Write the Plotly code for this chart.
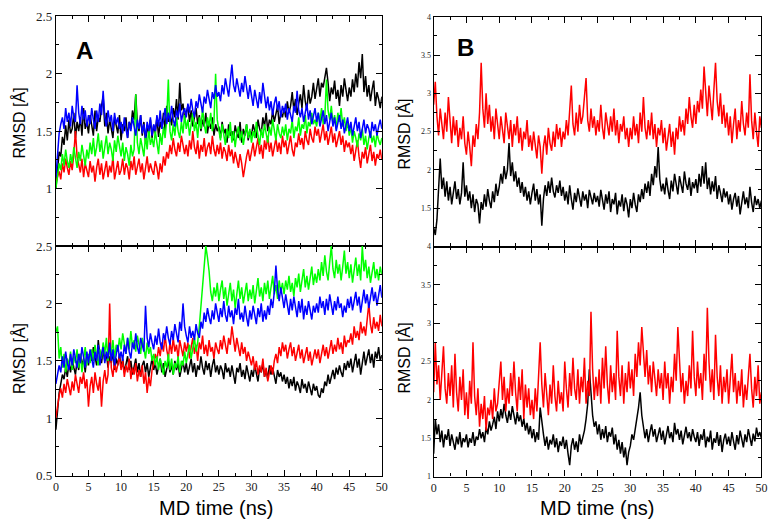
import plotly.graph_objects as go

# time axis (ns), sampled every 0.25 ns
time_ns = [i * 0.25 for i in range(201)]

# ---- Panel A, top ----
a_top_black = [
    1.00,1.18,1.32,1.28,1.45,1.38,1.55,1.42,1.60,1.48,1.52,1.66,1.44,1.58,1.50,1.62,1.46,1.70,1.52,1.58,
    1.48,1.64,1.55,1.46,1.68,1.50,1.62,1.58,1.72,1.80,1.54,1.66,1.48,1.60,1.52,1.44,1.62,1.56,1.48,1.64,
    1.42,1.56,1.50,1.62,1.44,1.58,1.52,1.68,1.60,1.82,1.56,1.50,1.64,1.46,1.58,1.40,1.54,1.48,1.60,1.44,
    1.55,1.48,1.62,1.45,1.58,1.52,1.66,1.50,1.72,1.58,1.64,1.55,1.70,1.62,1.78,1.60,1.92,1.68,1.74,1.60,
    1.66,1.72,1.58,1.68,1.54,1.62,1.70,1.56,1.64,1.50,1.60,1.54,1.66,1.48,1.58,1.52,1.62,1.46,1.56,1.50,
    1.54,1.44,1.58,1.48,1.52,1.40,1.56,1.46,1.50,1.42,1.55,1.48,1.44,1.58,1.40,1.52,1.46,1.56,1.42,1.50,
    1.46,1.56,1.50,1.44,1.60,1.52,1.48,1.62,1.54,1.66,1.50,1.60,1.56,1.68,1.58,1.64,1.72,1.56,1.66,1.62,
    1.70,1.62,1.76,1.66,1.72,1.84,1.68,1.78,1.64,1.74,1.82,1.70,1.90,1.76,1.68,1.86,1.74,1.80,1.92,1.78,
    1.86,1.96,1.80,1.92,1.88,1.98,2.05,1.92,1.76,1.88,1.82,1.94,1.78,1.86,1.72,1.90,1.80,1.96,1.84,1.76,
    1.88,1.80,1.95,1.84,2.00,1.88,2.10,1.96,2.17,1.84,1.98,1.80,1.90,1.76,1.86,1.94,1.72,1.84,1.78,1.70,
    1.80]
a_top_red = [
    1.05,1.10,1.15,1.08,1.22,1.14,1.26,1.18,1.12,1.24,1.16,1.30,1.50,1.28,1.20,1.14,1.26,1.10,1.22,1.16,
    1.10,1.24,1.14,1.20,1.06,1.18,1.26,1.12,1.22,1.08,1.16,1.24,1.10,1.20,1.14,1.28,1.08,1.18,1.24,1.12,
    1.16,1.26,1.12,1.22,1.18,1.08,1.24,1.16,1.28,1.12,1.20,1.26,1.14,1.22,1.08,1.18,1.28,1.14,1.22,1.16,
    1.12,1.24,1.18,1.08,1.22,1.14,1.28,1.20,1.32,1.26,1.38,1.30,1.44,1.34,1.28,1.40,1.32,1.46,1.36,1.30,
    1.38,1.28,1.42,1.34,1.50,1.36,1.30,1.42,1.26,1.38,1.32,1.44,1.28,1.36,1.40,1.30,1.46,1.34,1.28,1.38,
    1.30,1.40,1.26,1.36,1.32,1.24,1.38,1.28,1.34,1.22,1.32,1.26,1.18,1.30,1.22,1.10,1.20,1.28,1.34,1.24,
    1.32,1.40,1.28,1.36,1.44,1.30,1.38,1.26,1.42,1.34,1.46,1.32,1.40,1.28,1.38,1.44,1.32,1.40,1.30,1.46,
    1.36,1.42,1.30,1.38,1.46,1.34,1.28,1.40,1.36,1.48,1.38,1.44,1.34,1.50,1.42,1.38,1.52,1.44,1.40,1.54,
    1.46,1.52,1.40,1.48,1.56,1.42,1.50,1.38,1.46,1.54,1.40,1.48,1.36,1.44,1.50,1.38,1.46,1.32,1.42,1.36,
    1.40,1.30,1.38,1.24,1.34,1.42,1.28,1.18,1.32,1.26,1.36,1.22,1.30,1.38,1.24,1.32,1.20,1.30,1.26,1.34,
    1.25]
a_top_green = [
    1.00,1.10,1.22,1.16,1.30,1.20,1.34,1.24,1.18,1.30,1.22,1.36,1.26,1.18,1.32,1.24,1.38,1.28,1.20,1.34,
    1.26,1.40,1.30,1.44,1.28,1.36,1.48,1.32,1.42,1.26,1.38,1.46,1.30,1.40,1.34,1.24,1.42,1.32,1.46,1.36,
    1.28,1.40,1.24,1.36,1.30,1.20,1.38,1.28,1.34,1.82,1.40,1.30,1.44,1.36,1.28,1.46,1.34,1.52,1.38,1.44,
    1.36,1.50,1.40,1.30,1.48,1.38,1.54,1.44,1.60,1.95,1.50,1.42,1.56,1.46,1.62,1.50,1.44,1.58,1.48,1.64,
    1.52,1.60,1.46,1.56,1.66,1.50,1.58,1.44,1.62,1.52,1.70,1.56,1.48,1.62,1.54,1.66,1.50,1.58,2.00,1.60,
    1.50,1.42,1.56,1.46,1.38,1.52,1.44,1.58,1.40,1.50,1.36,1.48,1.54,1.42,1.50,1.38,1.46,1.56,1.44,1.52,
    1.40,1.50,1.44,1.58,1.46,1.38,1.52,1.44,1.56,1.48,1.40,1.54,1.46,1.60,1.50,1.42,1.56,1.48,1.44,1.54,
    1.46,1.56,1.42,1.52,1.48,1.60,1.44,1.54,1.50,1.62,1.46,1.56,1.52,1.64,1.48,1.58,1.54,1.66,1.56,1.60,
    1.54,1.66,1.58,1.70,1.56,1.62,1.95,1.68,1.60,1.72,1.56,1.64,1.52,1.66,1.58,1.70,1.54,1.62,1.50,1.58,
    1.46,1.54,1.40,1.50,1.44,1.36,1.48,1.42,1.52,1.38,1.46,1.34,1.44,1.50,1.40,1.46,1.36,1.48,1.42,1.38,
    1.44]
a_top_blue = [
    1.10,1.30,1.48,1.56,1.62,1.52,1.70,1.58,1.66,1.54,1.72,1.62,1.58,1.90,1.66,1.56,1.72,1.60,1.68,1.54,
    1.64,1.56,1.70,1.60,1.52,1.68,1.58,1.74,1.64,1.85,1.62,1.54,1.68,1.58,1.64,1.50,1.66,1.56,1.62,1.52,
    1.58,1.48,1.62,1.52,1.44,1.58,1.50,1.62,1.54,1.46,1.60,1.52,1.64,1.48,1.56,1.44,1.58,1.50,1.62,1.46,
    1.56,1.50,1.64,1.54,1.68,1.52,1.60,1.70,1.56,1.66,1.58,1.72,1.60,1.54,1.68,1.62,1.74,1.58,1.66,1.70,
    1.62,1.74,1.66,1.78,1.68,1.62,1.76,1.70,1.82,1.72,1.66,1.80,1.74,1.86,1.76,1.70,1.84,1.78,1.90,1.80,
    1.84,1.76,1.90,1.82,1.96,1.86,1.80,1.94,2.08,1.90,1.84,1.96,1.88,1.80,1.92,1.84,1.98,1.86,1.78,1.90,
    1.80,1.72,1.86,1.76,1.70,1.84,1.74,1.92,1.78,1.70,1.80,1.68,1.76,1.64,1.74,1.80,1.68,1.76,1.62,1.72,
    1.66,1.74,1.60,1.70,1.64,1.58,1.72,1.66,1.85,1.68,1.62,1.70,1.58,1.66,1.74,1.60,1.68,1.56,1.64,1.70,
    1.58,1.66,1.54,1.62,1.68,1.56,1.64,1.50,1.60,1.66,1.54,1.62,1.50,1.58,1.64,1.52,1.60,1.48,1.56,1.62,
    1.50,1.58,1.46,1.56,1.62,1.50,1.58,1.44,1.54,1.60,1.48,1.56,1.52,1.44,1.58,1.50,1.56,1.46,1.54,1.60,
    1.52]

# ---- Panel A, bottom ----
a_bot_black = [
    0.90,1.08,1.22,1.30,1.38,1.34,1.44,1.36,1.48,1.40,1.52,1.44,1.38,1.50,1.42,1.56,1.46,1.52,1.40,1.54,
    1.46,1.58,1.50,1.62,1.52,1.46,1.68,1.54,1.48,1.60,1.50,1.56,1.44,1.54,1.48,1.58,1.42,1.52,1.46,1.56,
    1.44,1.52,1.40,1.48,1.54,1.42,1.50,1.38,1.46,1.52,1.40,1.48,1.36,1.46,1.50,1.40,1.48,1.36,1.44,1.52,
    1.42,1.48,1.38,1.46,1.52,1.40,1.48,1.36,1.44,1.50,1.40,1.46,1.38,1.50,1.42,1.48,1.36,1.44,1.50,1.40,
    1.48,1.38,1.44,1.52,1.40,1.48,1.36,1.46,1.42,1.54,1.44,1.38,1.50,1.42,1.48,1.36,1.46,1.52,1.40,1.46,
    1.38,1.46,1.42,1.34,1.48,1.40,1.44,1.36,1.46,1.38,1.30,1.44,1.40,1.48,1.36,1.42,1.34,1.46,1.40,1.32,
    1.42,1.36,1.46,1.38,1.32,1.44,1.40,1.48,1.36,1.42,1.34,1.46,1.38,1.44,1.36,1.30,1.42,1.36,1.40,1.32,
    1.38,1.30,1.36,1.26,1.34,1.28,1.36,1.24,1.32,1.28,1.22,1.34,1.26,1.30,1.22,1.32,1.26,1.20,1.30,1.24,
    1.28,1.20,1.18,1.26,1.22,1.32,1.28,1.38,1.30,1.36,1.42,1.34,1.44,1.38,1.46,1.40,1.36,1.48,1.42,1.50,
    1.44,1.52,1.40,1.48,1.56,1.44,1.52,1.38,1.50,1.58,1.46,1.54,1.60,1.48,1.56,1.44,1.58,1.52,1.62,1.50,
    1.55]
a_bot_red = [
    1.00,1.12,1.20,1.26,1.18,1.30,1.22,1.34,1.26,1.20,1.32,1.24,1.38,1.28,1.22,1.36,1.30,1.40,1.26,1.34,
    1.10,1.28,1.36,1.22,1.40,1.30,1.24,1.36,1.10,1.32,1.42,1.30,1.38,2.00,1.44,1.36,1.50,1.40,1.46,1.54,
    1.42,1.50,1.36,1.46,1.40,1.52,1.34,1.44,1.38,1.48,1.32,1.42,1.36,1.46,1.30,1.40,1.22,1.36,1.28,1.42,
    1.48,1.56,1.50,1.62,1.54,1.66,1.58,1.72,1.60,1.52,1.66,1.56,1.70,1.58,1.64,1.52,1.68,1.60,1.54,1.66,
    1.58,1.66,1.52,1.62,1.70,1.56,1.64,1.50,1.66,1.60,1.72,1.56,1.64,1.54,1.68,1.58,1.62,1.52,1.66,1.60,
    1.56,1.68,1.60,1.72,1.62,1.56,1.70,1.64,1.80,1.66,1.58,1.70,1.60,1.54,1.66,1.56,1.62,1.50,1.58,1.52,
    1.46,1.54,1.42,1.50,1.38,1.46,1.40,1.52,1.36,1.44,1.32,1.40,1.46,1.38,1.50,1.56,1.48,1.62,1.54,1.66,
    1.58,1.64,1.52,1.60,1.66,1.54,1.62,1.50,1.58,1.64,1.52,1.60,1.48,1.56,1.62,1.50,1.58,1.46,1.54,1.60,
    1.52,1.60,1.48,1.58,1.64,1.54,1.62,1.52,1.60,1.68,1.56,1.64,1.58,1.70,1.60,1.66,1.56,1.72,1.62,1.68,
    1.66,1.74,1.64,1.80,1.70,1.76,1.68,1.84,1.74,1.80,1.72,1.86,2.00,1.82,1.74,1.88,1.78,1.84,1.76,1.90,
    1.80]
a_bot_green = [
    1.75,1.80,1.52,1.62,1.44,1.56,1.40,1.52,1.46,1.58,1.42,1.54,1.48,1.60,1.44,1.56,1.40,1.52,1.62,1.46,
    1.56,1.48,1.60,1.50,1.64,1.54,1.46,1.60,1.52,1.66,1.56,1.70,1.50,1.62,1.56,1.68,1.52,1.64,1.58,1.70,
    1.60,1.74,1.64,1.56,1.70,1.60,1.76,1.62,1.68,1.58,1.72,1.64,1.56,1.70,1.62,1.52,1.66,1.56,1.62,1.50,
    1.56,1.46,1.54,1.42,1.52,1.46,1.38,1.50,1.44,1.56,1.42,1.52,1.38,1.48,1.44,1.54,1.40,1.50,1.46,1.58,
    1.48,1.56,1.64,1.52,1.62,1.70,1.58,1.66,1.80,1.98,2.20,2.36,2.50,2.40,2.28,2.10,2.02,2.14,2.06,2.18,
    2.02,2.12,2.20,2.04,2.14,1.98,2.10,2.18,2.02,2.12,1.96,2.08,2.20,2.04,2.14,2.00,2.10,2.18,2.02,2.12,
    2.04,2.16,2.00,2.12,2.22,2.06,2.14,2.02,2.18,2.08,2.20,2.04,2.14,2.24,2.08,2.16,2.04,2.20,2.10,2.18,
    2.08,2.20,2.12,2.24,2.10,2.18,2.06,2.22,2.14,2.26,2.10,2.20,2.30,2.14,2.24,2.12,2.22,2.32,2.16,2.26,
    2.18,2.30,2.20,2.36,2.24,2.42,2.28,2.20,2.36,2.50,2.30,2.22,2.38,2.26,2.34,2.20,2.32,2.46,2.26,2.36,
    2.22,2.34,2.18,2.30,2.40,2.24,2.34,2.20,2.50,2.28,2.38,2.22,2.32,2.18,2.28,2.36,2.22,2.30,2.20,2.32,
    2.25]
a_bot_blue = [
    1.30,1.38,1.46,1.40,1.54,1.44,1.58,1.48,1.42,1.56,1.46,1.60,1.50,1.44,1.56,1.48,1.62,1.52,1.44,1.58,
    1.48,1.60,1.52,1.44,1.58,1.50,1.64,1.46,1.56,1.62,1.48,1.58,1.52,1.66,1.50,1.60,1.46,1.56,1.64,1.52,
    1.58,1.50,1.64,1.56,1.70,1.58,1.52,1.66,1.60,1.74,1.62,1.56,1.70,1.64,1.58,1.98,1.70,1.62,1.74,1.66,
    1.60,1.72,1.64,1.78,1.66,1.60,1.74,1.68,1.80,1.70,1.64,1.76,1.68,1.82,1.72,1.66,1.84,1.76,2.00,1.80,
    1.72,1.66,1.80,1.70,1.76,1.68,1.82,1.74,1.70,1.84,1.78,1.92,1.84,1.96,1.88,1.82,1.94,1.86,2.00,1.90,
    1.84,1.96,1.88,2.02,1.90,1.84,1.98,1.88,1.94,1.82,1.96,1.90,2.04,1.86,1.92,1.84,1.98,1.88,1.80,1.94,
    1.86,1.98,1.90,1.82,1.96,1.88,2.00,1.84,1.94,1.86,1.98,1.90,2.04,1.96,2.10,2.33,2.12,2.02,2.14,2.04,
    1.96,2.08,1.98,1.90,2.04,1.94,2.06,1.96,1.88,2.02,1.92,2.04,1.86,1.98,1.90,2.02,1.94,1.86,1.98,1.92,
    2.00,1.92,2.06,1.96,2.02,1.90,2.04,1.94,2.08,1.98,1.90,2.02,1.94,2.06,1.96,2.00,1.88,1.98,1.92,2.04,
    1.96,2.06,1.94,2.02,2.10,1.98,2.06,1.92,2.04,2.12,2.00,2.08,1.96,2.06,2.14,2.02,2.10,1.98,2.08,2.16,
    2.05]

# ---- Panel B, top ----
b_top_black = [
    1.25,1.15,1.35,1.80,2.15,1.75,1.90,1.65,1.85,1.60,1.78,1.55,1.70,1.85,1.62,1.75,1.55,1.70,2.10,1.65,
    1.80,1.60,1.72,1.50,1.68,1.45,1.62,1.55,1.30,1.58,1.48,1.68,1.52,1.75,1.60,1.50,1.72,1.58,1.82,1.66,
    1.78,1.95,1.82,2.05,1.88,2.00,2.35,1.92,2.10,1.85,1.98,1.78,1.90,1.70,1.84,1.65,1.78,1.60,1.72,1.55,
    1.70,1.82,1.60,1.75,1.55,1.68,1.27,1.62,1.80,1.66,1.85,1.70,1.90,1.72,1.64,1.80,1.70,1.86,1.66,1.78,
    1.60,1.72,1.55,1.80,1.62,1.48,1.70,1.58,1.76,1.64,1.52,1.72,1.60,1.68,1.50,1.74,1.62,1.55,1.70,1.58,
    1.66,1.52,1.74,1.60,1.48,1.68,1.56,1.72,1.45,1.62,1.55,1.70,1.42,1.60,1.52,1.68,1.46,1.64,1.55,1.38,
    1.62,1.50,1.70,1.55,1.45,1.68,1.58,1.75,1.62,1.82,1.70,1.85,1.66,1.95,1.80,2.05,1.90,2.30,1.88,1.72,
    1.82,1.68,1.90,1.74,1.62,1.86,1.72,1.95,1.78,1.68,1.92,1.80,1.70,1.98,1.82,1.74,1.90,1.66,1.84,1.76,
    1.88,1.70,1.95,1.78,2.05,1.82,2.10,1.75,1.90,1.68,1.85,1.72,1.92,1.62,1.80,1.70,1.58,1.76,1.64,1.72,
    1.55,1.68,1.48,1.62,1.70,1.52,1.66,1.42,1.60,1.72,1.55,1.64,1.50,1.78,1.58,1.45,1.66,1.54,1.62,1.50,
    1.60]
b_top_red = [
    2.85,3.15,2.70,2.45,2.80,2.55,2.40,2.75,2.50,2.95,2.60,2.35,2.70,2.45,2.65,2.30,2.55,2.40,2.70,2.35,
    2.20,2.50,2.30,2.05,2.45,2.30,2.60,2.40,2.75,3.40,2.80,2.55,3.00,2.60,2.85,2.50,2.70,2.40,2.80,2.55,
    2.40,2.70,2.50,2.35,2.75,2.55,2.40,2.65,2.30,2.60,2.45,2.70,2.35,2.55,2.25,2.50,2.40,2.65,2.30,2.45,
    2.25,2.50,2.35,2.15,2.45,2.30,1.95,2.30,2.45,2.20,2.55,2.35,2.25,2.50,2.30,2.60,2.40,2.55,2.30,2.50,
    2.40,2.65,2.45,2.75,3.10,2.60,2.45,2.75,2.50,2.85,2.60,2.70,2.95,3.20,2.65,2.50,2.80,2.55,2.70,2.45,
    2.65,2.50,2.85,2.55,2.40,2.75,2.60,2.45,2.70,2.50,2.80,2.45,2.65,2.35,2.60,2.50,2.70,2.40,2.55,2.30,
    2.55,2.40,2.70,2.45,2.60,2.35,2.75,2.50,2.95,2.55,2.40,2.65,2.45,2.75,2.40,2.60,2.30,2.55,2.45,2.65,
    2.35,2.55,2.25,2.45,2.60,2.30,2.50,2.20,2.55,2.40,2.70,2.50,2.65,2.45,2.80,2.60,2.95,2.70,2.55,2.85,
    2.60,2.90,2.75,3.05,2.80,3.35,2.95,2.70,3.10,2.85,2.65,3.05,3.40,2.90,2.70,3.00,2.60,2.85,2.55,2.75,
    2.45,2.70,2.35,2.60,2.80,2.40,2.65,2.50,2.90,2.60,2.45,2.75,2.55,3.25,2.65,2.40,2.75,2.50,2.30,2.70,
    2.55]

# ---- Panel B, bottom ----
b_bot_black = [
    1.30,1.75,1.55,1.68,1.45,1.60,1.38,1.55,1.48,1.62,1.40,1.55,1.45,1.35,1.52,1.42,1.58,1.38,1.50,1.45,
    1.55,1.38,1.50,1.44,1.58,1.40,1.52,1.48,1.62,1.50,1.58,1.45,1.65,1.55,1.72,1.60,1.68,1.78,1.62,1.85,
    1.72,1.88,1.76,1.95,1.80,1.70,1.86,1.74,1.92,1.78,1.68,1.84,1.72,1.80,1.65,1.76,1.60,1.70,1.55,1.66,
    1.50,1.62,1.45,1.58,1.48,1.90,1.70,1.55,1.40,1.52,1.35,1.48,1.42,1.55,1.38,1.50,1.32,1.46,1.40,1.52,
    1.36,1.48,1.30,1.15,1.40,1.50,1.35,1.46,1.32,1.55,1.42,1.50,1.60,1.75,1.95,2.40,2.05,1.80,1.65,1.72,
    1.55,1.68,1.48,1.62,1.50,1.66,1.45,1.58,1.52,1.64,1.42,1.55,1.35,1.48,1.30,1.45,1.25,1.38,1.15,1.32,
    1.40,1.55,1.48,1.62,1.75,1.90,2.10,1.80,1.65,1.50,1.62,1.45,1.58,1.68,1.52,1.62,1.45,1.56,1.64,1.48,
    1.60,1.42,1.55,1.66,1.50,1.58,1.45,1.70,1.55,1.62,1.48,1.60,1.42,1.55,1.65,1.50,1.58,1.46,1.62,1.52,
    1.45,1.58,1.40,1.55,1.48,1.62,1.38,1.52,1.45,1.60,1.35,1.50,1.44,1.58,1.40,1.54,1.32,1.48,1.56,1.42,
    1.52,1.40,1.58,1.46,1.35,1.54,1.42,1.60,1.48,1.38,1.55,1.45,1.62,1.50,1.40,1.56,1.46,1.64,1.52,1.58,
    1.50]
b_bot_red = [
    2.10,2.75,2.20,2.45,2.00,2.30,2.70,2.15,1.95,2.35,2.05,2.45,1.90,2.60,2.10,1.85,2.30,2.00,2.40,1.80,
    2.10,1.75,2.25,1.95,2.75,2.05,1.80,2.15,1.65,1.95,1.75,2.05,1.60,1.90,1.80,2.00,1.75,2.15,1.85,1.95,
    2.20,2.50,2.00,2.30,1.85,2.15,1.95,2.35,2.05,2.50,2.10,1.85,2.30,2.00,2.40,1.75,2.20,1.90,2.15,1.80,
    2.00,1.75,2.15,1.85,2.30,2.75,2.20,1.90,2.35,2.00,1.80,2.20,1.95,2.45,2.05,1.85,2.25,1.95,2.10,1.85,
    2.50,2.15,1.90,2.35,2.05,2.55,2.15,2.00,2.40,1.95,2.30,2.10,2.55,1.95,2.25,2.05,3.15,2.40,2.00,2.30,
    2.05,2.40,1.95,2.55,2.15,2.70,2.20,1.95,2.45,2.10,2.35,2.00,2.90,2.30,2.05,2.45,1.95,2.35,2.10,2.50,
    2.15,2.40,2.05,2.60,2.30,2.75,2.45,2.95,2.55,2.30,2.65,2.20,2.45,2.10,2.50,2.25,2.05,2.40,2.15,2.35,
    2.00,2.50,2.15,2.35,1.95,2.30,2.10,2.60,2.25,2.95,2.40,2.10,2.35,1.95,2.25,2.05,2.45,2.15,2.90,2.30,
    2.05,2.50,2.15,2.35,2.00,2.60,2.25,3.20,2.50,2.10,2.40,2.00,2.85,2.30,2.05,2.45,1.95,2.30,2.10,2.40,
    1.95,2.30,2.60,2.10,2.35,1.95,2.25,2.05,2.40,1.90,2.20,2.00,2.35,2.60,2.15,1.90,2.30,2.05,2.45,1.95,
    2.10]

x_ticks = [0, 5, 10, 15, 20, 25, 30, 35, 40, 45, 50]
x_ticktext = ["0", "5", "10", "15", "20", "25", "30", "35", "40", "45", "50"]
ya_vals = [0.5, 1, 1.5, 2, 2.5]
ya_top_text = ["", "1", "1.5", "2", "2.5"]
ya_bot_text = ["0.5", "1", "1.5", "2", "2.5"]
yb_vals = [1, 1.5, 2, 2.5, 3, 3.5, 4]
yb_top_text = ["", "1.5", "2", "2.5", "3", "3.5", "4"]
yb_bot_text = ["1", "1.5", "2", "2.5", "3", "3.5", "4"]

W, H = 777, 529


def px(x):
    return x / W


def py(y):
    return 1 - y / H


fig = go.Figure()

panels = [
    ("x", "y", [(a_top_black, "black"), (a_top_red, "#ff0000"),
                (a_top_green, "#00ff00"), (a_top_blue, "#0000ff")]),
    ("x2", "y2", [(a_bot_black, "black"), (a_bot_red, "#ff0000"),
                  (a_bot_green, "#00ff00"), (a_bot_blue, "#0000ff")]),
    ("x3", "y3", [(b_top_black, "black"), (b_top_red, "#ff0000")]),
    ("x4", "y4", [(b_bot_black, "black"), (b_bot_red, "#ff0000")]),
]
for xa, ya, series in panels:
    for vals, col in series:
        assert len(vals) == len(time_ns), (col, len(vals))
        fig.add_trace(go.Scatter(x=time_ns, y=vals, mode="lines", xaxis=xa, yaxis=ya,
                                 line=dict(color=col, width=1.5), showlegend=False,
                                 hoverinfo="skip"))


def axis_common(dtick_minor):
    return dict(showline=True, linecolor="black", linewidth=1.2, mirror="allticks",
                ticks="inside", ticklen=6, tickcolor="black", tickwidth=1,
                showgrid=False, zeroline=False, ticklabeloverflow="allow",
                minor=dict(ticks="inside", ticklen=3, tickcolor="black",
                           dtick=dtick_minor, showgrid=False))


xA = [px(53.5), px(383.3)]
xB = [px(435.7), px(767.3)]
tick_font = dict(family="Liberation Serif, Times New Roman, serif", size=13, color="#222")
tick_font_x = dict(family="Liberation Serif, Times New Roman, serif", size=12, color="#222")
tick_font_small = dict(family="Liberation Serif, Times New Roman, serif", size=8, color="#222")

layout_axes = {}
for name, dom, anchor, show in [("xaxis", xA, "y", False), ("xaxis2", xA, "y2", True),
                                ("xaxis3", xB, "y3", False), ("xaxis4", xB, "y4", True)]:
    d = axis_common(2.5)
    d.update(domain=dom, anchor=anchor, range=[0, 50], tickmode="array",
             tickvals=x_ticks, ticktext=x_ticktext, showticklabels=show,
             tickfont=tick_font_x)
    d["minor"]["tick0"] = 0
    layout_axes[name] = d

for name, dom, anchor, rng, vals, texts, tf in [
        ("yaxis", [py(246.0), py(9.5)], "x", [0.5, 2.5], ya_vals, ya_top_text, tick_font),
        ("yaxis2", [py(482.3), py(246.0)], "x2", [0.5, 2.5], ya_vals, ya_bot_text, tick_font),
        ("yaxis3", [py(246.5), py(10.0)], "x3", [1, 4], yb_vals, yb_top_text, tick_font_small),
        ("yaxis4", [py(483.3), py(246.5)], "x4", [1, 4], yb_vals, yb_bot_text, tick_font_small)]:
    d = axis_common(0.25)
    d.update(domain=dom, anchor=anchor, range=rng, tickmode="array",
             tickvals=vals, ticktext=texts, tickfont=tf)
    d["minor"]["tick0"] = 0
    layout_axes[name] = d

sans = "Liberation Sans, Arial, sans-serif"
annotations = []
for x, y in [(16, 119), (16, 361.5), (406, 131), (406, 361.5)]:
    annotations.append(dict(x=px(x), y=py(y), xref="paper", yref="paper",
                            text="RMSD [Å]", textangle=-90, showarrow=False,
                            font=dict(family=sans, size=16, color="black"),
                            xanchor="center", yanchor="middle"))
for x in [216, 601]:
    annotations.append(dict(x=px(x), y=py(516), xref="paper", yref="paper",
                            text="MD time (ns)", showarrow=False,
                            font=dict(family=sans, size=20, color="black"),
                            xanchor="center", yanchor="middle"))
for x, y, t in [(82, 45, "A"), (468, 42, "B")]:
    annotations.append(dict(x=px(x), y=py(y), xref="paper", yref="paper",
                            text="<b>" + t + "</b>", showarrow=False,
                            font=dict(family=sans, size=24, color="black"),
                            xanchor="center", yanchor="middle"))

fig.update_layout(width=W, height=H, autosize=False,
                  margin=dict(l=0, r=0, t=0, b=0),
                  paper_bgcolor="white", plot_bgcolor="white",
                  annotations=annotations, **layout_axes)

fig.write_html("out.html", config={"displayModeBar": False},
               post_script="document.body.style.margin='0px';document.body.style.overflow='hidden';")
